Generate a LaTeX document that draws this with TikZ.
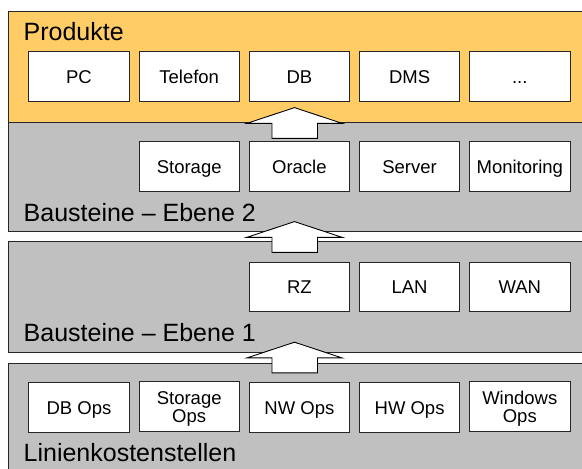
\documentclass[tikz,border=0pt]{standalone}
\usepackage{fontspec}
\setmainfont{Liberation Sans}
\definecolor{prodorange}{RGB}{255,204,102}
\definecolor{layergray}{RGB}{192,192,192}
\begin{document}
\begin{tikzpicture}[x=1pt,y=-1pt,
  layer/.style={draw=black!85, line width=0.9pt},
  box/.style={draw=black!85, fill=white, line width=0.9pt, minimum width=100.5pt,
    minimum height=49.5pt, inner sep=0pt, align=center,
    text height=13.3pt, text depth=0pt,
    font=\fontsize{18.5}{18.3}\selectfont},
  twobox/.style={box, text height=31.6pt, text depth=0pt},
  lbl/.style={anchor=base west, inner sep=0pt, font=\fontsize{25}{28}\selectfont},
  blockarrow/.style={draw=black, fill=white, line width=0.9pt, line join=miter}]
\useasboundingbox (0,0) rectangle (582,469);
\clip (0,0) rectangle (582,469);
% layers
\draw[layer, fill=prodorange] (8,11) rectangle (595,130);
\draw[layer, fill=layergray] (8,122.3) rectangle (595,231);
\draw[layer, fill=layergray] (8,241) rectangle (595,352);
\draw[layer, fill=layergray] (8,363) rectangle (595,480);
% layer labels
\node[lbl] (lprod) at (23.5,40) {Produkte};
\node[lbl] (lb2) at (23.5,221) {Bausteine – Ebene 2};
\node[lbl] (lb1) at (23.5,341) {Bausteine – Ebene 1};
\node[lbl] (llin) at (23.5,461) {Linienkostenstellen};
% Produkte
\node[box] (pc)  at (79,76.5) {PC};
\node[box] (tel) at (189.2,76.5) {Telefon};
\node[box] (db)  at (299.4,76.5) {DB};
\node[box] (dms) at (409.6,76.5) {DMS};
\node[box] (etc) at (519.8,76.5) {...};
% Ebene 2
\node[box] (sto) at (189.2,166.5) {Storage};
\node[box] (ora) at (299.4,166.5) {Oracle};
\node[box] (srv) at (409.6,166.5) {Server};
\node[box] (mon) at (519.8,166.5) {Monitoring};
% Ebene 1
\node[box] (rz)  at (299.4,287) {RZ};
\node[box] (lan) at (409.6,287) {LAN};
\node[box] (wan) at (519.8,287) {WAN};
% Linienkostenstellen
\node[box] (dbo) at (79,407.5) {DB Ops};
\node[twobox] (sto2) at (189.2,406.5) {Storage\\Ops};
\node[box] (nwo) at (299.4,407.5) {NW Ops};
\node[box] (hwo) at (409.6,407.5) {HW Ops};
\node[twobox] (wino) at (519.8,406.5) {Windows\\Ops};
% block arrows
\coordinate (t1) at (294.5,107.6);
\coordinate (t2) at (294.5,221.6);
\coordinate (t3) at (294.5,342.2);
\foreach \t in {t1,t2,t3}{
  \draw[blockarrow] (\t) -- ++(47.5,15.7) -- ++(-24.5,0) -- ++(0,15)
    -- ++(-45.5,0) -- ++(0,-15) -- ++(-25,0) -- cycle;
}
\end{tikzpicture}
\end{document}
